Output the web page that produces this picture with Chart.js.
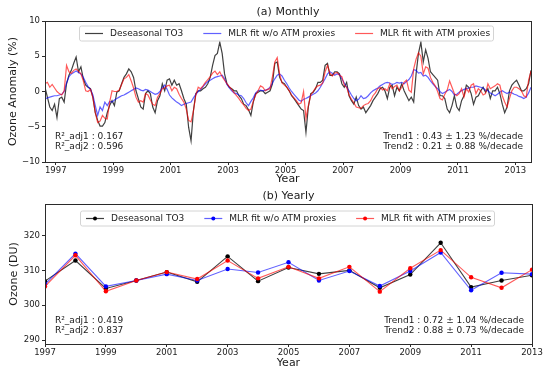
<!DOCTYPE html>
<html>
<head>
<meta charset="utf-8">
<script src="https://cdn.jsdelivr.net/npm/chart.js@4.4.0/dist/chart.umd.min.js"></script>
<style>
  body { margin: 0; background: #fff; }
  #wrap { position: relative; width: 550px; height: 375px; }
  canvas { position: absolute; left: 0; }
</style>
</head>
<body>
<div id="wrap">
  <canvas id="monthly" width="550" height="187" style="top:0"></canvas>
  <canvas id="yearly" width="550" height="188" style="top:187px"></canvas>
</div>
<script>
// monthly series start in Aug 1996
const startYear = 1996;
const startMonth = 8;

const seriesNames = ['Deseasonal TO3', 'MLR fit w/o ATM proxies', 'MLR fit with ATM proxies'];

const monthlyTO3 = [
  0.6,-0.8,-2.2,-2.7,-1.8,-3.7,-1.0,-0.8,-1.5,1.1,
  2.3,3.0,4.0,4.9,2.8,3.5,1.8,0.9,0.6,0.4,
  -0.8,-3.0,-4.1,-4.9,-4.9,-4.4,-3.0,-2.0,-1.3,-2.0,
  -0.1,0.1,1.1,2.0,2.5,3.2,2.8,2.0,0.1,-1.0,
  -2.2,-2.5,-0.3,0.1,-0.3,-2.2,-3.0,-1.3,-0.6,1.1,
  0.1,1.6,1.8,0.9,1.6,0.9,1.1,0.1,-1.0,-1.8,
  -5.1,-7.0,-2.7,-0.3,0.1,0.1,0.4,0.6,1.1,2.0,
  3.7,5.1,5.4,7.0,5.4,2.5,1.1,0.6,0.4,0.1,
  0.1,-0.6,-1.0,-1.8,-2.0,-2.6,-3.4,-1.5,-0.3,-0.1,
  0.1,0.1,-0.3,-0.1,0.1,1.1,4.0,4.2,2.0,1.3,
  1.1,0.6,0.1,-0.6,-1.0,-1.5,-2.0,-2.5,-2.7,-5.8,
  -2.2,-0.3,-0.1,0.4,1.3,1.3,1.6,3.7,4.0,2.3,
  2.3,2.8,2.8,2.5,1.1,0.6,1.3,-0.6,-1.3,-1.8,
  -0.8,-2.0,-2.5,-2.2,-3.0,-2.5,-2.0,-1.3,-0.8,-0.3,
  0.4,0.6,0.1,-1.0,0.6,0.9,-0.6,0.6,0.1,1.1,
  0.1,-0.6,-1.3,-0.8,-1.5,2.5,5.4,7.0,4.2,5.9,
  4.7,2.8,2.4,2.0,1.6,-0.6,-0.6,-1.0,-2.5,-3.0,
  -2.0,-0.6,-2.2,-2.7,-1.3,-0.6,0.9,0.6,-0.3,-1.8,
  -0.8,-0.6,0.1,0.6,-0.1,0.4,-1.0,0.1,0.1,0.6,
  -0.3,-1.8,-3.0,-2.2,0.1,0.9,1.3,1.6,0.9,0.1,
  0.1,0.4,1.1,3.0
];

const monthlyFitNoATM = [
  -1.1,-0.9,-0.8,-0.7,-0.6,-0.6,-0.5,-0.4,0.0,1.2,
  2.1,2.5,2.7,2.9,2.7,2.5,2.0,1.3,0.7,0.3,
  -0.5,-2.0,-3.4,-2.2,-2.7,-1.5,-2.0,-1.4,-1.5,-1.2,
  -1.0,-0.8,-0.6,-0.5,-0.3,-0.1,0.1,0.3,0.5,0.4,
  0.2,0.1,0.3,0.2,0.0,-0.2,-0.4,-0.3,0.0,0.5,
  0.9,0.3,-0.5,-0.9,-1.2,-1.5,-1.7,-2.0,-1.8,-1.7,
  -1.6,-1.5,-0.9,-0.4,0.0,0.3,0.7,1.1,1.4,1.6,
  1.8,2.0,2.1,2.2,2.3,1.8,1.0,0.5,0.1,-0.2,
  -0.3,-0.5,-0.6,-1.0,-1.6,-2.0,-1.4,-0.9,-0.2,0.1,
  0.2,0.1,0.2,0.3,0.6,1.2,1.8,2.3,2.5,2.2,
  1.6,1.1,0.5,0.0,-0.4,-0.8,-1.2,-1.4,-1.1,-1.0,
  -0.8,-0.6,-0.4,-0.2,0.1,0.6,1.2,1.8,2.5,2.8,
  2.6,2.3,2.5,2.4,1.8,1.2,0.6,0.1,-0.5,-1.0,
  -1.3,-1.1,-0.6,-1.0,-0.9,-0.6,-0.2,0.1,0.3,0.5,
  0.8,1.0,1.2,1.3,1.2,1.0,1.1,1.3,1.2,1.3,
  1.1,1.4,1.7,2.2,3.1,3.0,2.6,2.7,2.2,2.3,
  2.0,1.5,1.1,0.7,0.4,0.0,-0.3,-0.1,0.1,0.3,
  0.0,-0.5,-0.4,-0.1,0.1,0.3,0.4,0.5,0.6,0.6,
  0.8,0.7,0.6,0.5,0.2,0.1,-0.2,-0.4,-0.6,-0.4,
  -0.1,0.1,-0.1,-0.3,-0.1,-0.2,-0.4,-0.5,-0.7,-0.8,
  -1.0,-0.8,-0.2,0.6
];

const monthlyFitATM = [
  1.1,1.3,0.6,1.0,0.5,0.0,-0.3,-0.5,0.1,3.7,
  2.8,2.6,3.0,3.2,2.9,2.5,1.5,0.1,0.0,0.3,
  -0.9,-3.0,-4.4,-4.2,-3.4,-3.8,-3.9,-1.5,0.1,0.0,
  0.0,0.2,1.0,1.8,2.0,2.4,1.5,0.5,-0.8,-1.5,
  -1.3,-1.5,-0.3,-0.5,-1.2,-1.8,-2.0,-0.8,-0.3,0.4,
  0.5,0.8,0.9,0.1,0.6,0.4,-0.4,-1.0,-1.5,-2.5,
  -4.1,-4.3,-2.8,-0.5,0.6,0.4,0.8,1.3,1.7,2.1,
  2.6,2.9,2.4,2.8,2.1,1.6,1.1,0.7,0.3,-0.2,
  -0.6,-1.0,-1.5,-1.9,-2.4,-2.7,-2.5,-1.4,-0.5,0.1,
  0.8,0.6,0.1,0.3,0.4,2.1,4.2,4.8,2.5,1.2,
  0.9,0.6,0.1,-0.5,-0.9,-1.3,-1.8,-1.6,0.0,-3.8,
  -2.0,-0.5,0.0,0.5,0.8,0.9,1.2,2.8,3.7,2.6,
  2.2,2.6,2.7,2.3,2.1,0.9,0.6,-0.5,-1.1,-1.6,
  -2.2,-2.3,-2.4,-2.0,-1.8,-1.7,-1.3,-0.6,-0.2,0.4,
  0.6,0.2,0.4,0.1,1.1,0.4,0.7,0.9,0.1,0.6,
  1.3,1.6,0.2,-0.1,3.2,4.6,5.5,5.0,2.5,3.5,
  3.3,2.0,1.3,0.8,0.0,-1.0,-1.2,-0.4,0.2,1.5,
  0.6,-0.3,-0.6,-0.3,0.4,-0.8,0.4,-0.1,0.9,1.1,
  -0.3,0.4,0.1,-0.5,-0.3,1.1,0.4,0.6,0.8,1.1,
  0.9,-0.6,-1.5,-2.2,-1.0,0.1,0.6,0.6,0.4,0.1,
  -0.6,-0.8,1.6,2.9
];

const years = [1997,1998,1999,2000,2001,2002,2003,2004,2005,2006,2007,2008,2009,2010,2011,2012,2013];
const yearlyTO3 = [306.9,312.8,304.8,307.1,309.5,306.7,314.0,306.9,310.8,309.0,310.0,305.0,308.8,317.9,305.2,307.1,308.6];
const yearlyFitNoATM = [306.0,314.8,305.4,307.1,308.9,307.1,310.4,309.4,312.3,307.1,309.8,305.5,309.8,315.1,304.3,309.3,308.9];
const yearlyFitATM = [305.4,314.3,304.0,307.1,309.5,307.5,312.8,307.7,311.0,307.7,311.0,303.9,310.6,315.8,308.0,305.0,310.2];

const tickYears = [1997,1999,2001,2003,2005,2007,2009,2011,2013];
const monthlyTicks = [-10,-5,0,5,10];
const yearlyTicks = [290,300,310,320];

const monthlyStats = ['R\u00b2_adj1 : 0.167', 'R\u00b2_adj2 : 0.596'];
const monthlyTrends = ['Trend1 : 0.43 \u00b1 1.23 %/decade', 'Trend2 : 0.21 \u00b1 0.88 %/decade'];
const yearlyStats = ['R\u00b2_adj1 : 0.419', 'R\u00b2_adj2 : 0.837'];
const yearlyTrends = ['Trend1 : 0.72 \u00b1 1.04 %/decade', 'Trend2 : 0.88 \u00b1 0.73 %/decade'];

const FONT = '"DejaVu Sans", sans-serif';
const lineColors = ['rgba(0,0,0,0.75)', 'rgba(0,0,255,0.62)', 'rgba(255,0,0,0.65)'];
const dotColors = ['#000', '#0000ff', '#ff0000'];

function monthX(i) {
    return startYear + (startMonth - 0.5 + i) / 12;
}

// frame, title, legend and stat texts
const decoPlugin = {
    id: 'deco',
    afterDraw(chart, args, o) {
        const ctx = chart.ctx;
        const a = chart.chartArea;
        ctx.save();

        ctx.strokeStyle = '#2b2b2b';
        ctx.lineWidth = 1;
        ctx.strokeRect(Math.round(a.left) + 0.5, Math.round(a.top) + 0.5,
            Math.round(a.right - a.left), Math.round(a.bottom - a.top));

        ctx.fillStyle = '#1a1a1a';
        ctx.font = '11px ' + FONT;
        ctx.textAlign = 'center';
        ctx.textBaseline = 'middle';
        ctx.fillText(o.title, (a.left + a.right) / 2, o.titleY);

        // legend
        ctx.font = '9px ' + FONT;
        const sample = 18, gap = 7, sep = 20;
        const items = chart.data.datasets.map((ds, k) => ({ds, k, w: ctx.measureText(ds.label).width}));
        const total = items.reduce((s, it) => s + sample + gap + it.w, 0) + sep * (items.length - 1);
        let x = Math.round((a.left + a.right) / 2 - total / 2);
        const y = Math.round(a.top + o.legendY) + 0.5;
        ctx.fillStyle = 'rgba(255,255,255,0.85)';
        ctx.strokeStyle = '#d4d4d4';
        ctx.beginPath();
        ctx.roundRect(x - 5.5, y - 7.5, Math.round(total + 9), 15, 2);
        ctx.fill();
        ctx.stroke();
        ctx.textAlign = 'left';
        items.forEach(it => {
            ctx.strokeStyle = lineColors[it.k];
            ctx.lineWidth = 1.2;
            ctx.beginPath();
            ctx.moveTo(x, y);
            ctx.lineTo(x + sample, y);
            ctx.stroke();
            if (o.dots) {
                ctx.fillStyle = dotColors[it.k];
                ctx.beginPath();
                ctx.arc(x + sample / 2, y, 2, 0, Math.PI * 2);
                ctx.fill();
            }
            ctx.fillStyle = '#1a1a1a';
            ctx.fillText(it.ds.label, x + sample + gap, y);
            x += sample + gap + it.w + sep;
        });

        // stat texts
        ctx.fillStyle = '#1a1a1a';
        o.left.forEach((t, i) => {
            ctx.textAlign = 'left';
            ctx.fillText(t, a.left + 10, a.bottom - o.textBottom - (o.left.length - 1 - i) * 10);
        });
        o.right.forEach((t, i) => {
            ctx.textAlign = 'right';
            ctx.fillText(t, a.right - 8, a.bottom - o.textBottom - (o.right.length - 1 - i) * 10);
        });
        ctx.restore();
    }
};

function axisX(height, titlePad) {
    return {
        type: 'linear',
        afterBuildTicks: s => { s.ticks = tickYears.map(v => ({value: v})); },
        afterFit: s => { s.height = height; },
        ticks: { callback: v => String(v), font: {family: FONT, size: 8.5}, color: '#1a1a1a', padding: 1, maxRotation: 0, autoSkip: false },
        grid: { display: true, drawOnChartArea: false, tickLength: 3, color: '#2b2b2b' },
        border: { display: false },
        title: { display: true, text: 'Year', font: {family: FONT, size: 11}, color: '#1a1a1a', padding: {top: 0, bottom: titlePad} }
    };
}

function axisY(min, max, ticks, label, titlePad) {
    return {
        min: min, max: max,
        afterBuildTicks: s => { s.ticks = ticks.map(v => ({value: v})); },
        afterFit: s => { s.width = 45; },
        ticks: { callback: v => (v < 0 ? '\u2212' + Math.abs(v) : String(v)), font: {family: FONT, size: 8.5}, color: '#1a1a1a', padding: 2 },
        grid: { display: true, drawOnChartArea: false, tickLength: 3, color: '#2b2b2b' },
        border: { display: false },
        title: { display: true, text: label, font: {family: FONT, size: 11}, color: '#1a1a1a', padding: {top: titlePad, bottom: 0} }
    };
}

const monthlySeries = [monthlyTO3, monthlyFitNoATM, monthlyFitATM];
const monthlyChart = new Chart(document.getElementById('monthly'), {
    type: 'line',
    data: {
        datasets: monthlySeries.map((arr, k) => ({
            label: seriesNames[k],
            data: arr.map((v, i) => ({x: monthX(i), y: v})),
            borderColor: lineColors[k],
            borderWidth: 1.2,
            pointRadius: 0,
            tension: 0,
            order: 3 - k
        }))
    },
    options: {
        responsive: false,
        animation: false,
        devicePixelRatio: 1,
        layout: { padding: {left: 0, right: 19, top: 21, bottom: 0} },
        scales: {
            x: Object.assign(axisX(25, 1), {min: monthX(0), max: monthX(monthlyTO3.length - 1)}),
            y: axisY(-10, 10, monthlyTicks, 'Ozone Anomaly (%)', 7)
        },
        plugins: {
            legend: { display: false },
            tooltip: { enabled: false },
            deco: { title: '(a) Monthly', titleY: 12.5, legendY: 12, dots: false,
                    left: monthlyStats, right: monthlyTrends, textBottom: 15 }
        }
    },
    plugins: [decoPlugin]
});

const yearlySeries = [yearlyTO3, yearlyFitNoATM, yearlyFitATM];
const yearlyChart = new Chart(document.getElementById('yearly'), {
    type: 'line',
    data: {
        datasets: yearlySeries.map((arr, k) => ({
            label: seriesNames[k],
            data: arr.map((v, i) => ({x: years[i], y: v})),
            borderColor: lineColors[k],
            borderWidth: 1.1,
            pointRadius: 2.2,
            pointBorderWidth: 0,
            pointBackgroundColor: dotColors[k],
            tension: 0,
            order: 3 - k
        }))
    },
    options: {
        responsive: false,
        animation: false,
        devicePixelRatio: 1,
        layout: { padding: {left: 0, right: 18, top: 17, bottom: 0} },
        scales: {
            x: Object.assign(axisX(31, 5), {min: years[0], max: years[years.length - 1]}),
            y: axisY(288.9, 329, yearlyTicks, 'Ozone (DU)', 8)
        },
        plugins: {
            legend: { display: false },
            tooltip: { enabled: false },
            deco: { title: '(b) Yearly', titleY: 9.5, legendY: 13.5, dots: true,
                    left: yearlyStats, right: yearlyTrends, textBottom: 13.3 }
        }
    },
    plugins: [decoPlugin]
});
</script>
</body>
</html>
